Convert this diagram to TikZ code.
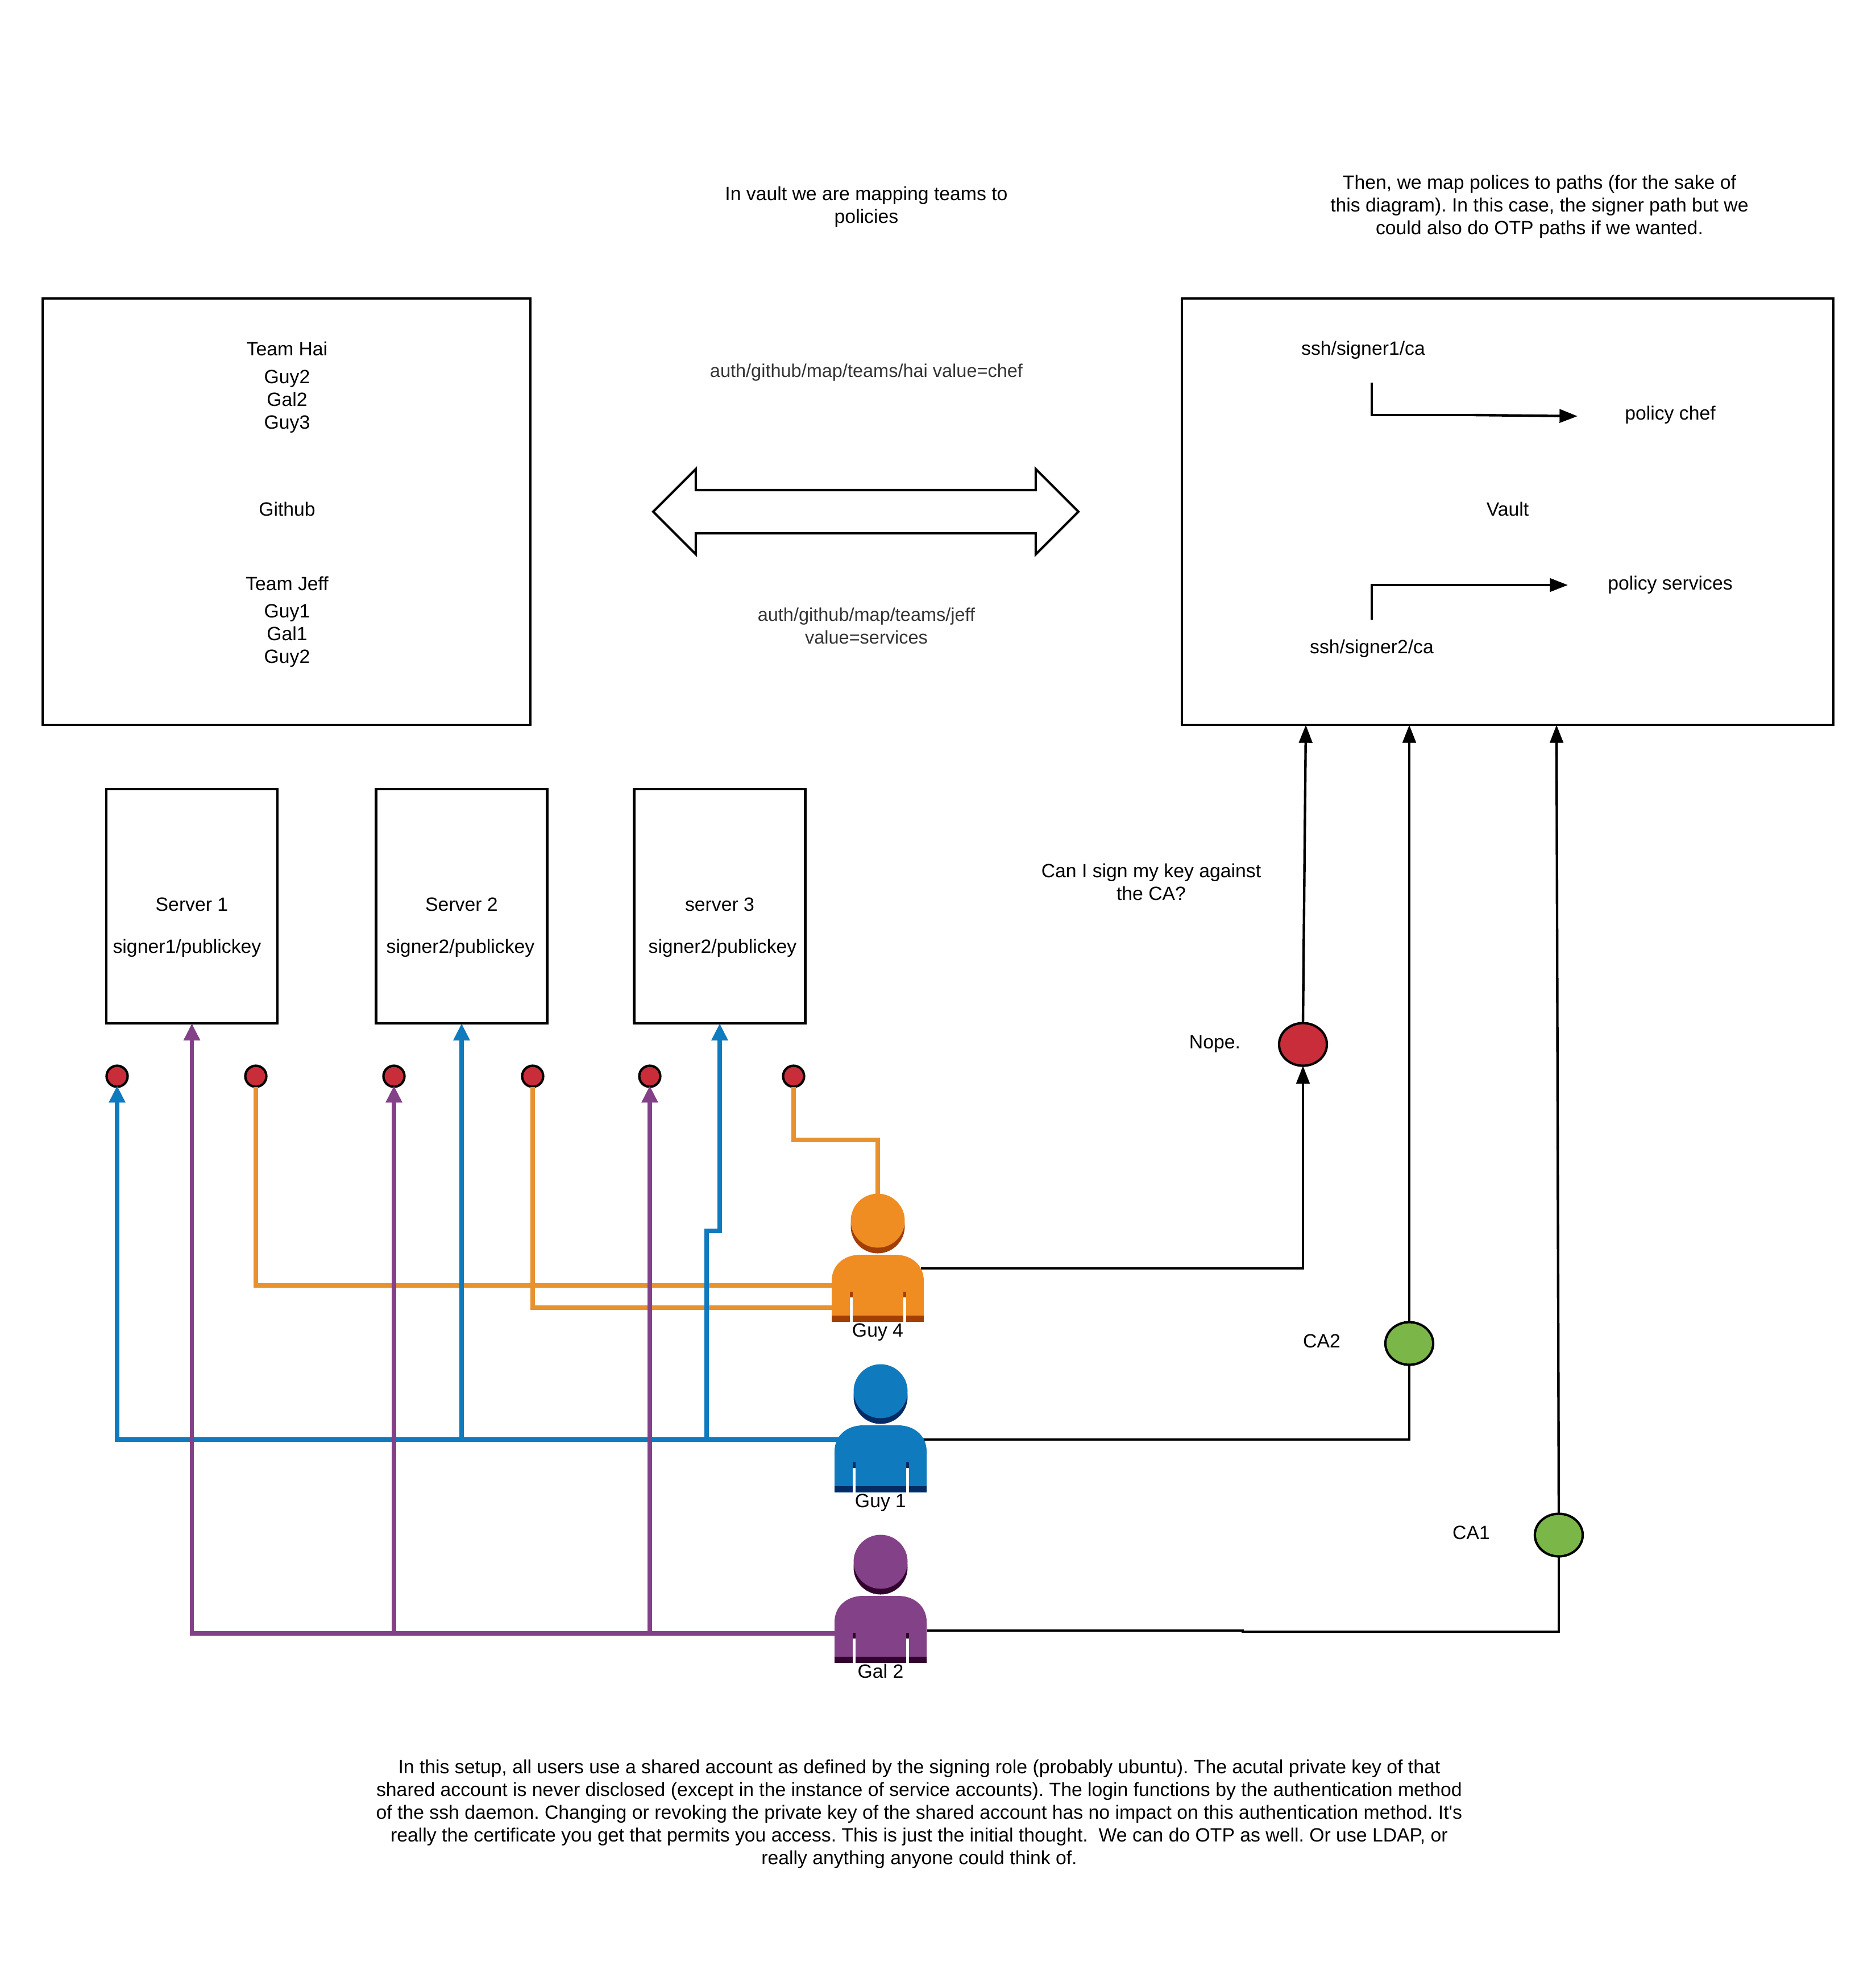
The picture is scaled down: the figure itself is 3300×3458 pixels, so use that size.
\documentclass[tikz,border=0pt]{standalone}
\usepackage{fontspec}
\setmainfont{Liberation Sans}
\newfontfamily\plainquote{Liberation Sans}
\usetikzlibrary{arrows.meta,shapes.geometric}
\definecolor{cblue}{HTML}{0F7ABD}
\definecolor{cblued}{HTML}{032B66}
\definecolor{corange}{HTML}{EF8D22}
\definecolor{clineor}{HTML}{E8922F}
\definecolor{coranged}{HTML}{A23F05}
\definecolor{cpurple}{HTML}{834187}
\definecolor{cpurpled}{HTML}{33032F}
\definecolor{cred}{HTML}{C92D39}
\definecolor{cgreen}{HTML}{7AB648}
\tikzset{
  txt/.style={font=\fontsize{8.1}{9.6}\selectfont,align=center,inner sep=0pt,text=black},
  greytxt/.style={txt,font=\fontsize{7.8}{9.6}\selectfont,text=black!80},
  persontxt/.style={txt,text height=5.8pt,text depth=1.7pt},
  boxnode/.style={draw=black,line width=1pt,fill=white,rectangle,inner sep=0pt,outer sep=0pt},
  serverbox/.style={boxnode,minimum width=72.24pt,minimum height=98.88pt},
  bigbox/.style={boxnode,minimum height=180pt},
  dotnode/.style={draw=black,line width=1pt,fill=cred,circle,inner sep=0pt,outer sep=0pt,minimum size=8.9pt},
  ovalnode/.style={draw=black,line width=1pt,ellipse,inner sep=0pt,outer sep=0pt,minimum width=20.2pt,minimum height=18pt},
  blk/.style={draw=black,line width=1.05pt},
  blkarrow/.style={blk,-{Triangle[length=7.6pt,width=5.6pt]}},
  thick line/.style={line width=1.9pt},
  colarrow/.style={thick line,-{Triangle[length=7.2pt,width=6.6pt]}},
  intodot/.style={shorten >=-0.5pt},
}
\newcommand{\personfig}[5]{%
  \begin{scope}[shift={(#1,#2)}]
    \fill[#4] (81,57) circle [radius=11.4pt];
    \fill[#3] (81,47) circle [radius=11.4pt];
    \fill[#3] (0,225) -- (0,153) .. controls (0,125) and (22,107) .. (50,107)
      -- (112,107) .. controls (140,107) and (162,125) .. (162,153) -- (162,225) -- cycle;
    \fill[#4] (0,214) rectangle (162,225);
    \fill[#4] (32,172) rectangle (37,182);
    \fill[#4] (126,172) rectangle (131,182);
    \fill[white] (32,182) rectangle (37,226);
    \fill[white] (126,182) rectangle (131,226);
    \node[persontxt] (#5) at (81,243) {#5};
  \end{scope}}
\begin{document}
\frenchspacing
\begin{tikzpicture}[x=0.24pt,y=-0.24pt]
\useasboundingbox (0,0) rectangle (3300,3458);
\fill[white] (0,0) rectangle (3300,3458);

% large boxes
\node[bigbox,minimum width=205.92pt] (github) at (504,900) {};
\node[bigbox,minimum width=275.04pt] (vault) at (2652,900) {};

% servers
\node[serverbox] (s1) at (337.5,1594) {};
\node[serverbox] (s2) at (812,1594) {};
\node[serverbox] (s3) at (1266,1594) {};

% connector coordinates
\coordinate (guy4top) at (1544,2102);
\coordinate (guy4a) at (1465,2261);
\coordinate (guy4b) at (1465,2300);
\coordinate (guy4r) at (1620,2231);
\coordinate (guy1l) at (1478,2532);
\coordinate (guy1r) at (1624,2532);
\coordinate (gal2l) at (1470,2873);
\coordinate (gal2r) at (1631,2868);
\coordinate (gal2m) at (2186,2868);
\coordinate (gal2n) at (2186,2870);
\coordinate (bend1) at (1243,2165);
\coordinate (bend2) at (1266,2165);
\coordinate (bendtop) at (1544,2005);
\coordinate (bendb) at (1396,2005);

% red dots
\node[dotnode] (d1) at (206,1893) {};
\node[dotnode] (d2) at (450,1893) {};
\node[dotnode] (d3) at (693,1893) {};
\node[dotnode] (d4) at (937,1893) {};
\node[dotnode] (d5) at (1143,1893) {};
\node[dotnode] (d6) at (1396,1893) {};

% ovals
\node[ovalnode,fill=cred] (nope) at (2292,1837) {};
\node[ovalnode,fill=cgreen] (ca2) at (2479,2363) {};
\node[ovalnode,fill=cgreen] (ca1) at (2742,2700) {};

% orange
\draw[thick line,clineor] (guy4top) -- (bendtop) -- (bendb) -- (d6.south);
\draw[thick line,clineor] (guy4a) -| (d2.south);
\draw[thick line,clineor] (guy4b) -| (d4.south);

% blue
\draw[colarrow,intodot,cblue] (guy1l) -| (d1.south);
\draw[colarrow,cblue] (guy1l) -| (s2.south);
\draw[colarrow,cblue] (guy1l) -| (bend1) -- (bend2) -- (s3.south);

% purple
\draw[colarrow,cpurple] (gal2l) -| (s1.south);
\draw[colarrow,intodot,cpurple] (gal2l) -| (d3.south);
\draw[colarrow,intodot,cpurple] (gal2l) -| (d5.south);

% black
\draw[blkarrow] (guy4r) -| (nope.south);
\draw[blkarrow] (nope.north) -- (2297,1275);
\draw[blk] (guy1r) -| (ca2.south);
\draw[blkarrow] (ca2.north) -- (2479,1275);
\draw[blk] (gal2r) -- (gal2m) -- (gal2n) -| (ca1.south);
\draw[blkarrow] (ca1.north) -- (2738,1275);

% people
\personfig{1463}{2100}{corange}{coranged}{Guy 4}
\personfig{1468}{2400}{cblue}{cblued}{Guy 1}
\personfig{1468}{2700}{cpurple}{cpurpled}{Gal 2}

% block arrow
\draw[line width=1pt,fill=white] (1149,900) -- (1224,825) -- (1224,862) -- (1822,862) -- (1822,825)
  -- (1897,900) -- (1822,975) -- (1822,938) -- (1224,938) -- (1224,975) -- cycle;

% vault inner
\coordinate (v1a) at (2413,673);
\coordinate (v1b) at (2413,730);
\coordinate (v1c) at (2592,730);
\coordinate (v2a) at (2413,1090);
\coordinate (v2b) at (2413,1029);

% texts
\node[txt] (t1) at (1524,364) {In vault we are mapping teams to\\policies};
\node[txt] (t2) at (2708,364) {Then, we map polices to paths (for the sake of\\this diagram). In this case, the signer path but we\\could also do OTP paths if we wanted.};
\node[txt] (teamhai) at (505,613) {Team Hai};
\node[txt] (hailist) at (505,706) {Guy2\\Gal2\\Guy3};
\node[txt] (gh) at (505,895) {Github};
\node[txt] (teamjeff) at (505,1026) {Team Jeff};
\node[txt] (jefflist) at (505,1118) {Guy1\\Gal1\\Guy2};
\node[greytxt] (auth1) at (1524,655) {auth/github/map/teams/hai value=chef};
\node[greytxt] (auth2) at (1524,1101) {auth/github/map/teams/jeff\\value=services};
\node[txt] (sg1) at (2398,616) {ssh/signer1/ca};
\node[txt] (pchef) at (2938,730) {policy chef};
\node[txt] (vt) at (2652,895) {Vault};
\node[txt] (pserv) at (2938,1029) {policy services};
\node[txt] (sg2) at (2413,1141) {ssh/signer2/ca};
\draw[blk] (v1a) -- (v1b) -- (v1c);
\draw[blkarrow] (v1c) -- (2775,732);
\draw[blkarrow] (v2a) -- (v2b) -- (2758,1029);
\node[txt] (n1) at (337.5,1591) {Server 1};
\node[txt] (k1) at (329,1668) {signer1/publickey};
\node[txt] (n2) at (812,1591) {Server 2};
\node[txt] (k2) at (810,1668) {signer2/publickey};
\node[txt] (n3) at (1266,1591) {server 3};
\node[txt] (k3) at (1271,1668) {signer2/publickey};
\node[txt] (q) at (2025,1551) {Can I sign my key against\\the CA?};
\node[txt] (nopet) at (2137,1836) {Nope.};
\node[txt] (ca2t) at (2325,2359) {CA2};
\node[txt] (ca1t) at (2588,2696) {CA1};
\node[txt] (foot) at (1617,3191) {In this setup, all users use a shared account as defined by the signing role (probably ubuntu). The acutal private key of that\\shared account is never disclosed (except in the instance of service accounts). The login functions by the authentication method\\of the ssh daemon. Changing or revoking the private key of the shared account has no impact on this authentication method. It{\plainquote\symbol{39}}s\\really the certificate you get that permits you access. This is just the initial thought.\ \ We can do OTP as well. Or use LDAP, or\\really anything anyone could think of.};
\end{tikzpicture}
\end{document}
